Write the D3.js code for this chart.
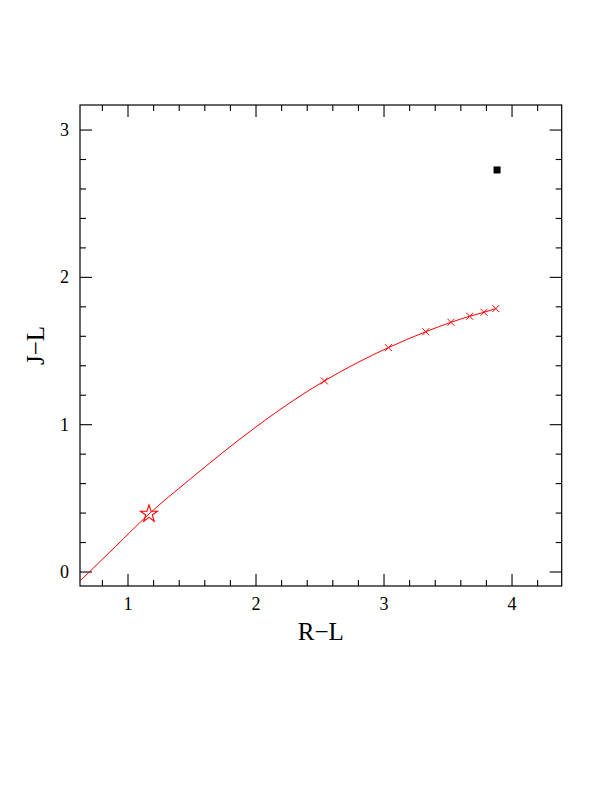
<!DOCTYPE html>
<html>
<head>
<meta charset="utf-8">
<script src="https://cdn.jsdelivr.net/npm/d3@7"></script>
<style>
  html, body { margin: 0; padding: 0; background: #fff; }
  svg { display: block; }
</style>
</head>
<body>
<script>
// ---- data ----
const curveX = [0.625, 0.90, 1.164, 1.471, 2.00, 2.305, 2.534, 3.034, 3.326, 3.523, 3.669, 3.781, 3.873];
const curveY = [-0.061, 0.171, 0.394, 0.620, 0.985, 1.172, 1.297, 1.523, 1.631, 1.695, 1.736, 1.763, 1.788];
const crossX = [2.534, 3.034, 3.326, 3.523, 3.669, 3.781, 3.873];
const crossY = [1.297, 1.523, 1.631, 1.695, 1.736, 1.763, 1.788];
const starX = [1.164];
const starY = [0.394];
const squareX = [3.883];
const squareY = [2.729];
const xMajor = [1, 2, 3, 4];
const yMajor = [0, 1, 2, 3];
const xMinor = [0.8, 1.2, 1.4, 1.6, 1.8, 2.2, 2.4, 2.6, 2.8, 3.2, 3.4, 3.6, 3.8, 4.2];
const yMinor = [0.2, 0.4, 0.6, 0.8, 1.2, 1.4, 1.6, 1.8, 2.2, 2.4, 2.6, 2.8];
const xLabel = "R\u2212L";
const yLabel = "J\u2212L";

// ---- layout ----
const W = 612, H = 792;
const L = 80, R = 561.7, T = 105, B = 586;
const x = d3.scaleLinear().domain([0.625, 4.388]).range([L, R]);
const y = d3.scaleLinear().domain([-0.095, 3.170]).range([B, T]);

const svg = d3.select("body").append("svg").attr("width", W).attr("height", H);

// frame
svg.append("rect").attr("x", L).attr("y", T).attr("width", R - L).attr("height", B - T)
  .attr("fill", "none").attr("stroke", "#000").attr("stroke-width", 1.2);

const g = svg.append("g").attr("stroke", "#000").attr("stroke-width", 1.1);
const MAJ = 12, MIN = 6;
xMajor.forEach(v => {
  g.append("line").attr("x1", x(v)).attr("x2", x(v)).attr("y1", B).attr("y2", B - MAJ);
  g.append("line").attr("x1", x(v)).attr("x2", x(v)).attr("y1", T).attr("y2", T + MAJ);
});
xMinor.forEach(v => {
  g.append("line").attr("x1", x(v)).attr("x2", x(v)).attr("y1", B).attr("y2", B - MIN);
  g.append("line").attr("x1", x(v)).attr("x2", x(v)).attr("y1", T).attr("y2", T + MIN);
});
yMajor.forEach(v => {
  g.append("line").attr("y1", y(v)).attr("y2", y(v)).attr("x1", L).attr("x2", L + MAJ);
  g.append("line").attr("y1", y(v)).attr("y2", y(v)).attr("x1", R).attr("x2", R - MAJ);
});
yMinor.forEach(v => {
  g.append("line").attr("y1", y(v)).attr("y2", y(v)).attr("x1", L).attr("x2", L + MIN);
  g.append("line").attr("y1", y(v)).attr("y2", y(v)).attr("x1", R).attr("x2", R - MIN);
});

// tick labels
const font = "'Liberation Serif', 'DejaVu Serif', serif";
xMajor.forEach(v => {
  svg.append("text").attr("x", x(v)).attr("y", 610).attr("text-anchor", "middle")
    .attr("font-family", font).attr("font-size", 18).text(v);
});
yMajor.forEach(v => {
  svg.append("text").attr("x", 69).attr("y", y(v) + 6).attr("text-anchor", "end")
    .attr("font-family", font).attr("font-size", 18).text(v);
});

// axis titles
svg.append("text").attr("x", (L + R) / 2).attr("y", 640).attr("text-anchor", "middle")
  .attr("font-family", font).attr("font-size", 25).text(xLabel);
svg.append("text").attr("transform", `translate(44,${(T + B) / 2}) rotate(-90)`)
  .attr("text-anchor", "middle").attr("font-family", font).attr("font-size", 25).text(yLabel);

// clip
svg.append("clipPath").attr("id", "clip").append("rect")
  .attr("x", L).attr("y", T).attr("width", R - L).attr("height", B - T);

// curve
const pts = curveX.map((v, i) => [v, curveY[i]]);
const line = d3.line().x(d => x(d[0])).y(d => y(d[1])).curve(d3.curveMonotoneX);
svg.append("path").datum(pts).attr("d", line).attr("fill", "none")
  .attr("stroke", "#ff0000").attr("stroke-width", 1).attr("clip-path", "url(#clip)");

// crosses
const cs = 3.5;
crossX.forEach((v, i) => {
  const cx = x(v), cy = y(crossY[i]);
  svg.append("path").attr("d", `M${cx - cs},${cy - cs}L${cx + cs},${cy + cs}M${cx - cs},${cy + cs}L${cx + cs},${cy - cs}`)
    .attr("stroke", "#ff0000").attr("stroke-width", 1).attr("fill", "none");
});

// star
const starPath = d3.symbol().type(d3.symbolStar).size(90);
starX.forEach((v, i) => {
  svg.append("path").attr("d", starPath()).attr("transform", `translate(${x(v)},${y(starY[i])})`)
    .attr("fill", "none").attr("stroke", "#ff0000").attr("stroke-width", 1.1);
});

// square
squareX.forEach((v, i) => {
  svg.append("rect").attr("x", x(v) - 3.5).attr("y", y(squareY[i]) - 3.5)
    .attr("width", 7).attr("height", 7).attr("fill", "#000");
});
</script>
</body>
</html>
